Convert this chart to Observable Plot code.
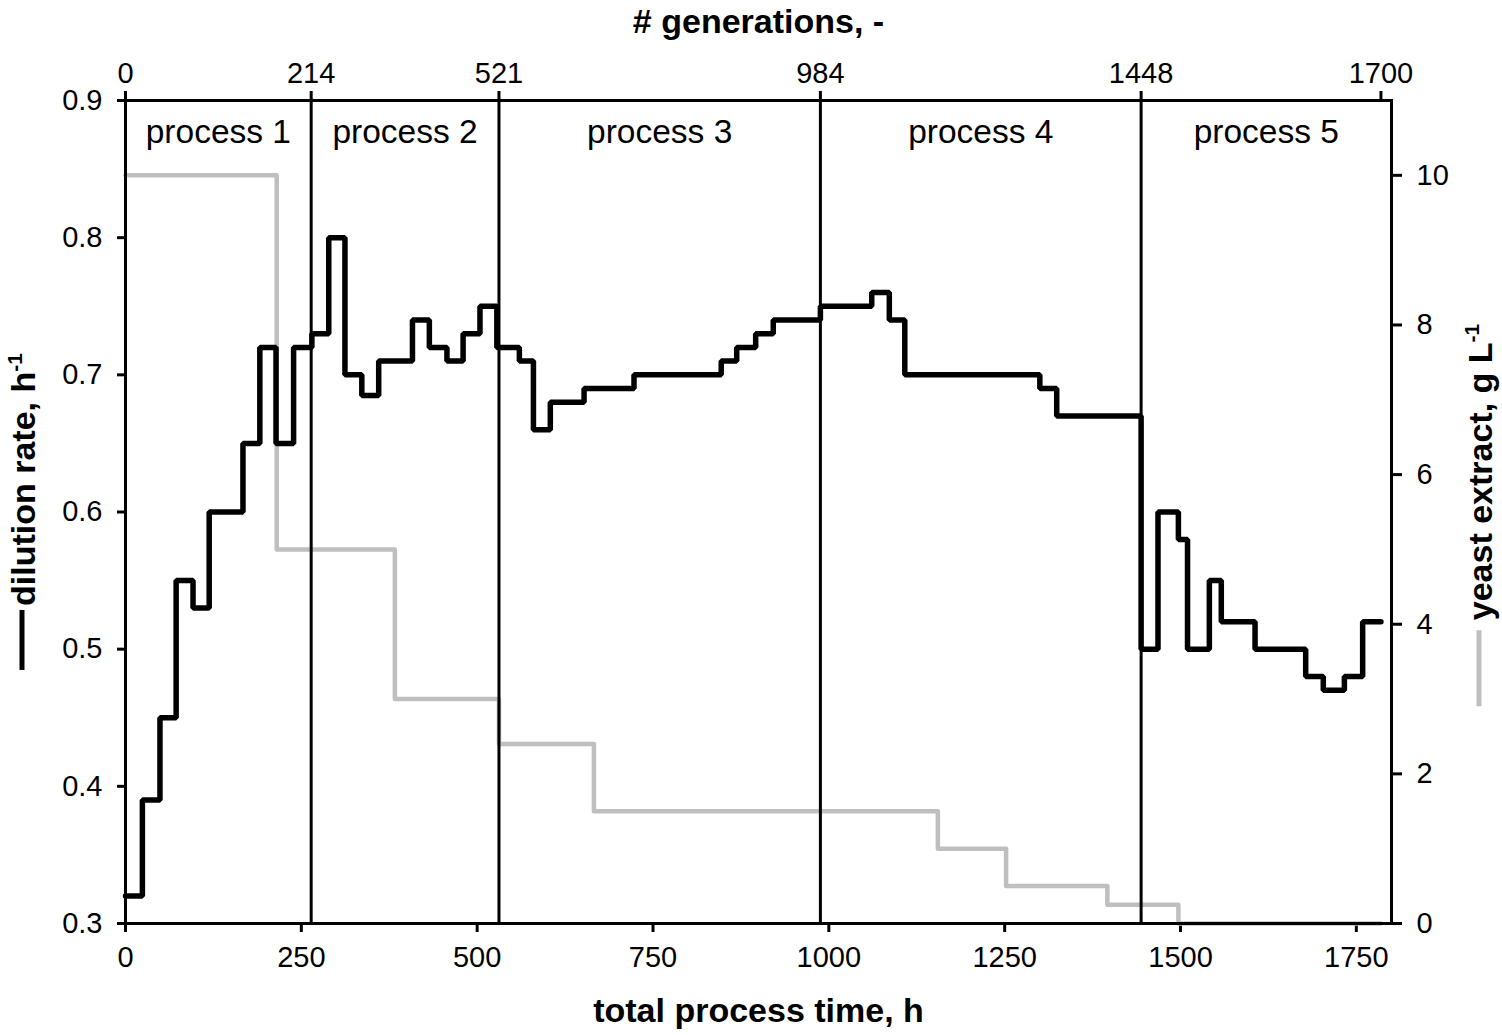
<!DOCTYPE html>
<html><head><meta charset="utf-8">
<script src="https://cdn.jsdelivr.net/npm/d3@7"></script>
<script src="https://cdn.jsdelivr.net/npm/@observablehq/plot@0.6"></script>
<style>
html,body{margin:0;padding:0;background:#fff;}
svg{display:block;}
</style></head><body><div id="chart"></div>
<script>
// ---- data ----
const dilutionTime = [0, 24, 49, 72, 96, 119, 167, 191, 214, 239, 265, 289, 312, 336, 360, 408, 432, 457, 480, 504, 528, 560, 580, 604, 652, 723, 847, 869, 896, 921, 988, 1061, 1086, 1108, 1300, 1324, 1444, 1468, 1497, 1510, 1541, 1558, 1606, 1678, 1703, 1733, 1759, 1785];
const dilutionRate = [0.32, 0.39, 0.45, 0.55, 0.53, 0.60, 0.65, 0.72, 0.65, 0.72, 0.73, 0.80, 0.70, 0.685, 0.71, 0.74, 0.72, 0.71, 0.73, 0.75, 0.72, 0.71, 0.66, 0.68, 0.69, 0.70, 0.71, 0.72, 0.73, 0.74, 0.75, 0.76, 0.74, 0.70, 0.69, 0.67, 0.50, 0.60, 0.58, 0.50, 0.55, 0.52, 0.50, 0.48, 0.47, 0.48, 0.52, 0.52];
const yeastTime = [0, 215, 383, 531, 666, 1155, 1252, 1396, 1497, 1785];
const yeastConc = [10, 5, 3, 2.4, 1.5, 1.0, 0.5, 0.25, 0, 0];
const processNames = ["process 1", "process 2", "process 3", "process 4", "process 5"];
const processStart = [0, 264, 531, 988, 1444];
const processEnd = [264, 531, 988, 1444, 1800];
const generationTime = [0, 264, 531, 988, 1444, 1785];
const generationLabels = ["0", "214", "521", "984", "1448", "1700"];
const timeTicks = [0, 250, 500, 750, 1000, 1250, 1500, 1750];
const rateTicks = [0.3, 0.4, 0.5, 0.6, 0.7, 0.8, 0.9];
const yeastTicks = [0, 2, 4, 6, 8, 10];

const FONT = '"Liberation Sans", Arial, Helvetica, sans-serif';
const yeastToRate = d3.scaleLinear([0, 11], [0.3, 0.9]);
const yeastTickPos = yeastTicks.map(yeastToRate);
const dil = d3.range(dilutionTime.length);
const yst = d3.range(yeastTime.length);

const chart = Plot.plot({
  width: 1502, height: 1035,
  marginLeft: 125, marginRight: 111, marginTop: 100, marginBottom: 112,
  style: {fontFamily: FONT, fontSize: "29px", color: "#000", background: "#fff"},
  x: {domain: [0, 1800]},
  y: {domain: [0.3, 0.9]},
  marks: [
    Plot.axisX({anchor: "bottom", ticks: timeTicks, tickFormat: d => String(d), tickSize: 9, tickPadding: 14, strokeWidth: 3, label: null}),
    Plot.axisX({anchor: "top", ticks: generationTime, tickFormat: d => generationLabels[generationTime.indexOf(d)], tickSize: 10, tickPadding: 8, strokeWidth: 3, label: null}),
    Plot.axisY({anchor: "left", ticks: rateTicks, tickFormat: d3.format(".1f"), tickSize: 8, tickPadding: 15, strokeWidth: 3, label: null}),
    Plot.axisY({anchor: "right", ticks: yeastTickPos, tickFormat: d => String(yeastTicks[yeastTickPos.indexOf(d)]), tickSize: 10, tickPadding: 15, strokeWidth: 3, label: null}),
    Plot.line(yst, {x: i => yeastTime[i], y: i => yeastToRate(yeastConc[i]), curve: "step-after", stroke: "#bfbfbf", strokeWidth: 4.5}),
    Plot.ruleX(processStart.slice(1), {stroke: "black", strokeWidth: 3}),
    Plot.line(dil, {x: i => dilutionTime[i], y: i => dilutionRate[i], curve: "step-after", stroke: "black", strokeWidth: 5.5, strokeLinejoin: "miter"}),
    Plot.frame({stroke: "black", strokeWidth: 3}),
    Plot.text(processNames, {x: (d, i) => (processStart[i] + processEnd[i]) / 2, text: d => d, frameAnchor: "top", dy: 42, lineAnchor: "bottom", fontSize: 33.5}),
    Plot.text(["# generations, -"], {frameAnchor: "top", dy: -68, lineAnchor: "bottom", fontWeight: "bold", fontSize: 34}),
    Plot.text(["total process time, h"], {frameAnchor: "bottom", dy: 98, lineAnchor: "bottom", fontWeight: "bold", fontSize: 34})
  ]
});
document.getElementById("chart").appendChild(chart);

// rotated side titles with legend dash
const svg = d3.select(chart);
function sideTitle(baseX, centerY, dashColor, dashLen, gap, main, sup) {
  const g = svg.append("g").attr("transform", `translate(${baseX},${centerY}) rotate(-90)`);
  const t = g.append("text").attr("text-anchor", "start").attr("font-family", FONT).attr("font-size", 34).attr("font-weight", "bold").attr("fill", "black");
  t.append("tspan").text(main);
  t.append("tspan").attr("font-size", 21).attr("dy", -13).text(sup);
  const w = t.node().getComputedTextLength();
  const total = dashLen + gap + w;
  t.attr("x", -total / 2 + dashLen + gap);
  g.append("line").attr("x1", -total / 2).attr("x2", -total / 2 + dashLen)
    .attr("y1", -13).attr("y2", -13).attr("stroke", dashColor).attr("stroke-width", 5);
}
sideTitle(35, 511.5, "black", 60, 4, "dilution rate, h", "-1");
sideTitle(1492, 515, "#bfbfbf", 76, 10, "yeast extract, g L", "-1");
</script></body></html>
